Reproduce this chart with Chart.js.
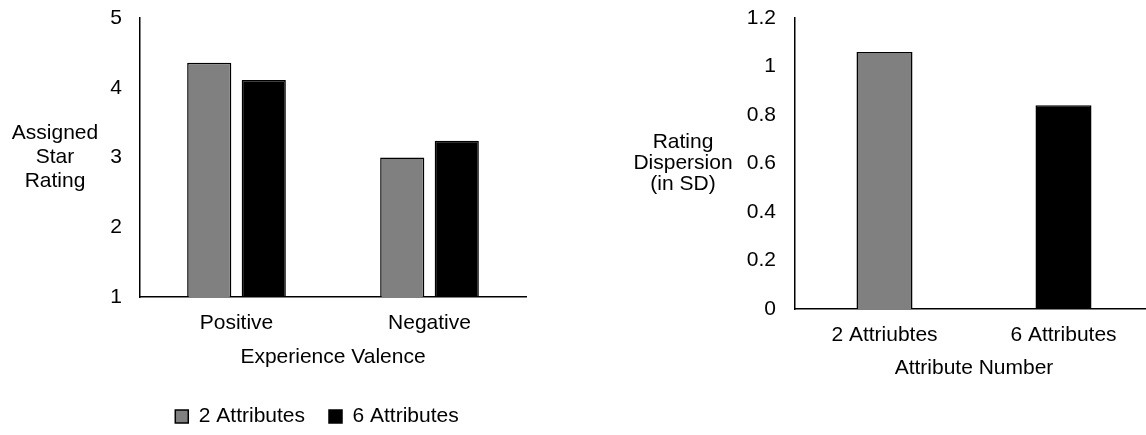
<!DOCTYPE html>
<html>
<head>
<meta charset="utf-8">
<script src="https://cdn.jsdelivr.net/npm/chart.js@4/dist/chart.umd.min.js"></script>
<style>
  html, body { margin: 0; padding: 0; background: #fff; overflow: hidden; }
  body { width: 1146px; height: 435px; position: relative; }
  #left { position: absolute; left: 0; top: 0; width: 560px; height: 437px; }
  #right { position: absolute; left: 580px; top: 0; width: 573px; height: 435px; }
</style>
</head>
<body>
<div id="left"><canvas id="chartLeft"></canvas></div>
<div id="right"><canvas id="chartRight"></canvas></div>
<script>
// left chart: star rating by valence
const valenceLabels = ['Positive', 'Negative'];
const twoAttrRating = [4.36, 3.0];
const sixAttrRating = [4.11, 3.24];
const ratingTicks = [1, 2, 3, 4, 5];

// right chart: dispersion by attribute number
const attrLabels = ['2 Attriubtes', '6 Attributes'];
const dispersionValues = [1.06, 0.84];
const dispersionTicks = [0, 0.2, 0.4, 0.6, 0.8, 1, 1.2];

const GRAY = '#808080';
const INK = '#000000';
const FONT = "'Liberation Sans', Arial, sans-serif";

Chart.defaults.font.family = FONT;
Chart.defaults.font.size = 21;
Chart.defaults.color = INK;

// horizontal multi-line y axis title, drawn beside the tick labels
const sideTitle = {
  id: 'sideTitle',
  afterDraw(chart, args, opts) {
    const {ctx, chartArea} = chart;
    const lines = opts.lines || [];
    const lh = opts.lineHeight || 23;
    const cy = (chartArea.top + chartArea.bottom) / 2;
    const x = chartArea.left - opts.offset;
    ctx.save();
    ctx.font = '21px ' + FONT;
    ctx.fillStyle = INK;
    ctx.textAlign = 'center';
    ctx.textBaseline = 'middle';
    lines.forEach((t, i) => {
      ctx.fillText(t, x, cy + (i - (lines.length - 1) / 2) * lh);
    });
    ctx.restore();
  }
};

const axisBorder = { display: true, color: INK, width: 1.5 };

// fixed y axis width, and no extra top/bottom room for the tick labels
const fitY = w => scale => {
  scale.width = w;
  scale.paddingTop = 0;
  scale.paddingBottom = 0;
};

new Chart(document.getElementById('chartLeft'), {
  type: 'bar',
  data: {
    labels: valenceLabels,
    datasets: [
      {
        label: '2 Attributes',
        data: twoAttrRating,
        backgroundColor: GRAY,
        borderColor: INK,
        borderWidth: 1.5
      },
      {
        label: '6 Attributes',
        data: sixAttrRating,
        backgroundColor: INK,
        borderColor: INK,
        borderWidth: 1.5
      }
    ]
  },
  options: {
    responsive: true,
    maintainAspectRatio: false,
    animation: false,
    categoryPercentage: 0.565,
    barPercentage: 0.81,
    layout: { padding: { left: 108, right: 34, top: 18, bottom: 0 } },
    plugins: {
      legend: {
        position: 'bottom',
        labels: { boxWidth: 13, boxHeight: 13, padding: 24, font: { size: 21 } }
      },
      tooltip: { enabled: false },
      sideTitle: { lines: ['Assigned', 'Star', 'Rating'], offset: 85, lineHeight: 24 }
    },
    scales: {
      x: {
        grid: { display: false, drawTicks: false },
        border: axisBorder,
        ticks: { padding: 14 },
        title: { display: true, text: 'Experience Valence', padding: { top: -5.8, bottom: 12.4 } }
      },
      y: {
        min: 1,
        max: 5,
        afterFit: fitY(32),
        afterBuildTicks(scale) { scale.ticks = ratingTicks.map(v => ({ value: v })); },
        grid: { display: false, drawTicks: false },
        border: axisBorder,
        ticks: { padding: 18 }
      }
    }
  },
  plugins: [sideTitle]
});

new Chart(document.getElementById('chartRight'), {
  type: 'bar',
  data: {
    labels: attrLabels,
    datasets: [
      {
        label: 'Rating Dispersion',
        data: dispersionValues,
        backgroundColor: [GRAY, INK],
        borderColor: INK,
        borderWidth: 1.5
      }
    ]
  },
  options: {
    responsive: true,
    maintainAspectRatio: false,
    animation: false,
    categoryPercentage: 1,
    barPercentage: 0.313,
    layout: { padding: { left: 0, right: 0, top: 18, bottom: 50.4 } },
    plugins: {
      legend: { display: false },
      tooltip: { enabled: false },
      sideTitle: { lines: ['Rating', 'Dispersion', '(in SD)'], offset: 112, lineHeight: 21 }
    },
    scales: {
      x: {
        grid: { display: false, drawTicks: false },
        border: axisBorder,
        ticks: { padding: 14 },
        title: { display: true, text: 'Attribute Number', padding: { top: -6.8, bottom: 4 } }
      },
      y: {
        min: 0,
        max: 1.2,
        afterFit: fitY(215),
        afterBuildTicks(scale) { scale.ticks = dispersionTicks.map(v => ({ value: v })); },
        grid: { display: false, drawTicks: false },
        border: axisBorder,
        ticks: { padding: 19, callback: v => String(+v.toFixed(1)) }
      }
    }
  },
  plugins: [sideTitle]
});
</script>
</body>
</html>
